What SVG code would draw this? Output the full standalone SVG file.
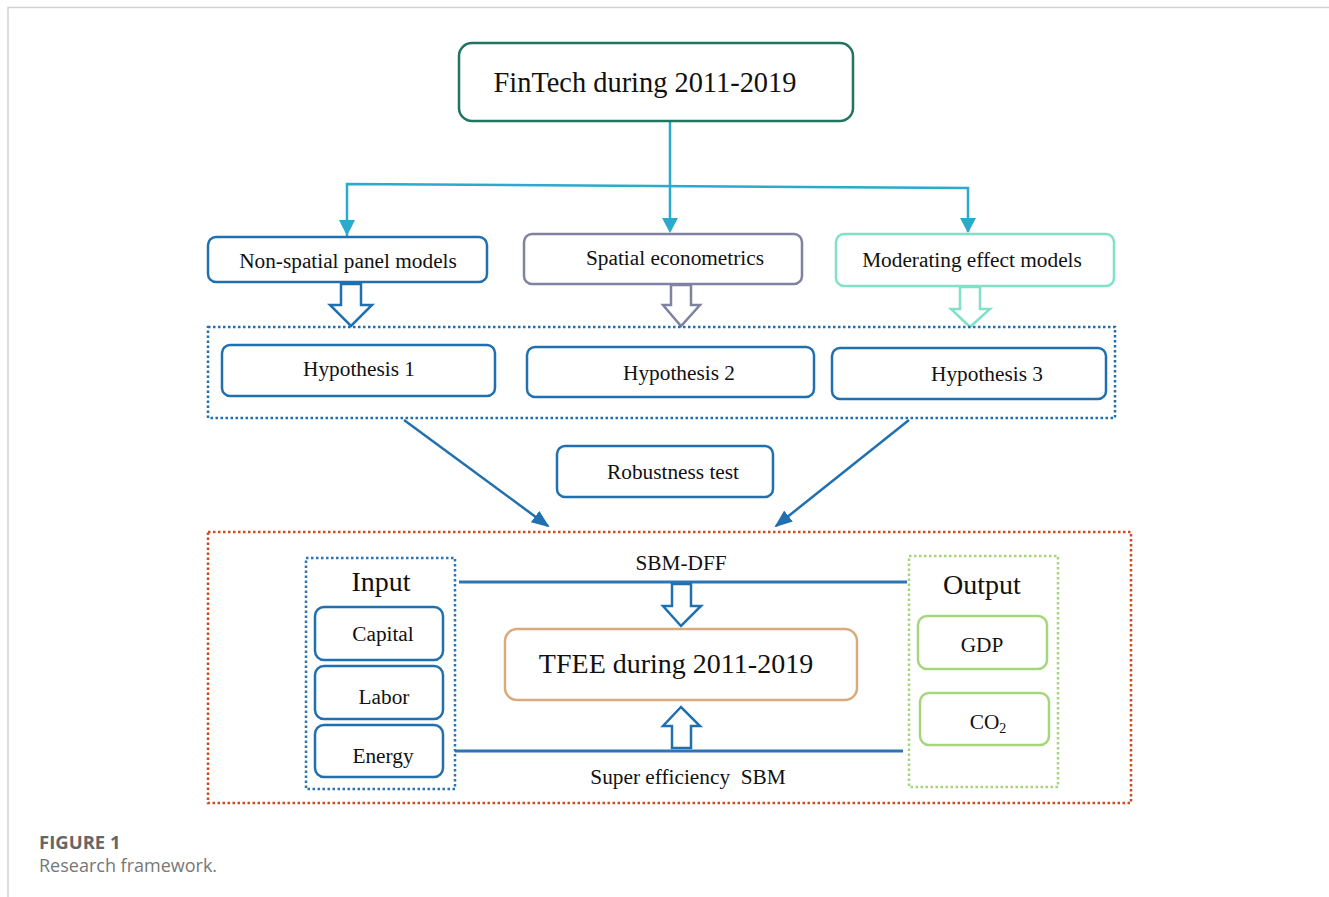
<svg xmlns="http://www.w3.org/2000/svg" width="1329" height="897" viewBox="0 0 1329 897">
<defs>
<style>
.t{font-family:"Liberation Serif","Times New Roman",serif;fill:#111;text-anchor:middle}
.s{font-size:21.3px}
.l{font-size:28px}
.box{fill:#fff;stroke-width:2.5}
.blue{stroke:#2070b0}
.hol{fill:#fff;stroke-width:2.5;stroke-linejoin:miter}
.cap{font-family:"Open Sans",Lato,sans-serif}
</style>
<marker id="ab" markerWidth="18" markerHeight="14" refX="16" refY="7" orient="auto" markerUnits="userSpaceOnUse"><path d="M0,0 L18,7 L0,14 z" fill="#2070b0"/></marker>
</defs>
<rect width="1329" height="897" fill="#fff"/>
<path d="M8,897 V7.5 H1329" fill="none" stroke="#d2d2d2" stroke-width="1.5"/>

<g id="connectors">
<path d="M670,121 V220" fill="none" stroke="#2aaacd" stroke-width="2.5"/>
<path d="M670,218 l-8,0 l8,15 l8,-15 z" fill="#2aaacd"/>
<path d="M347,236 V184 L968,188 V232" fill="none" stroke="#2aaacd" stroke-width="2.5"/>
<path d="M339,220 l8,16 l8,-16 z" fill="#2aaacd"/>
<path d="M960,218 l8,15 l8,-15 z" fill="#2aaacd"/>
<path d="M404,420 L548,526" fill="none" stroke="#2070b0" stroke-width="2.5" marker-end="url(#ab)"/>
<path d="M909,420 L776,526" fill="none" stroke="#2070b0" stroke-width="2.5" marker-end="url(#ab)"/>
<path d="M341,284 V305 H330 L351,326 L372,305 H361 V284 z" class="hol" stroke="#2070b0"/>
<path d="M671,285 V305 H663 L681,326 L700,305 H691 V285 z" class="hol" stroke="#7f82a0"/>
<path d="M960,287 V309 H951 L970,327 L990,309 H980 V287 z" class="hol" stroke="#80e0c8"/>
<path d="M459,582 H907" stroke="#2d74b4" stroke-width="3" fill="none"/>
<path d="M455,751 H903" stroke="#2d74b4" stroke-width="3" fill="none"/>
<path d="M672,584 V606 H663 L681,626 L701,606 H691 V584 z" class="hol" stroke="#2070b0"/>
<path d="M672,748 V726 H663 L681,707 L700,726 H691 V748 z" class="hol" stroke="#2070b0"/>
</g>

<g id="fintech"><rect x="459" y="43" width="394" height="78" rx="13" class="box" stroke="#1f7560"/><text x="645" y="92" class="t" font-size="28.4">FinTech during 2011-2019</text></g>
<g id="nonspatial"><rect x="208" y="237" width="279" height="45" rx="8" class="box blue"/><text x="348" y="268" class="t s">Non-spatial panel models</text></g>
<g id="spatial"><rect x="524" y="234" width="278" height="50" rx="8" class="box" stroke="#7f82a0"/><text x="675" y="265" class="t s">Spatial econometrics</text></g>
<g id="moderating"><rect x="836" y="234" width="278" height="52" rx="8" class="box" stroke="#80e0c8"/><text x="972" y="267" class="t s">Moderating effect models</text></g>

<g id="hypotheses"><rect x="208" y="327" width="907" height="91" fill="none" stroke="#2070b0" stroke-width="2.5" stroke-dasharray="2.5 2.5"/></g>
<g id="h1"><rect x="222" y="345" width="273" height="51" rx="8" class="box blue"/><text x="359" y="376" class="t s">Hypothesis 1</text></g>
<g id="h2"><rect x="527" y="347" width="287" height="50" rx="8" class="box blue"/><text x="679" y="380" class="t s">Hypothesis 2</text></g>
<g id="h3"><rect x="832" y="348" width="274" height="51" rx="8" class="box blue"/><text x="987" y="381" class="t s">Hypothesis 3</text></g>

<g id="robustness"><rect x="557" y="446" width="216" height="51" rx="8" class="box blue"/><text x="673" y="479" class="t s">Robustness test</text></g>

<g id="tfee-frame"><rect x="208" y="532" width="923" height="271" fill="none" stroke="#d04a1e" stroke-width="2.5" stroke-dasharray="2.5 2.5"/></g>

<g id="input"><rect x="306" y="558" width="149" height="231" fill="none" stroke="#2d74b4" stroke-width="2.5" stroke-dasharray="2.5 2.5"/><text x="381" y="591" class="t l">Input</text></g>
<g id="capital"><rect x="315" y="607" width="128" height="53" rx="9" class="box blue" stroke-width="3"/><text x="383" y="641" class="t s">Capital</text></g>
<g id="labor"><rect x="315" y="666" width="128" height="53" rx="9" class="box blue" stroke-width="3"/><text x="384" y="704" class="t s">Labor</text></g>
<g id="energy"><rect x="315" y="725" width="128" height="52" rx="9" class="box blue" stroke-width="3"/><text x="383" y="763" class="t s">Energy</text></g>

<g id="sbmdff"><text x="681" y="570" class="t s">SBM-DFF</text></g>
<g id="tfee"><rect x="505" y="629" width="352" height="71" rx="12" class="box" stroke="#d9aa7c" stroke-width="3"/><text x="676" y="673" class="t l">TFEE during 2011-2019</text></g>
<g id="superSBM"><text x="688" y="784" class="t s" xml:space="preserve">Super efficiency  SBM</text></g>

<g id="output"><rect x="909" y="556" width="149" height="231" fill="none" stroke="#a6d67c" stroke-width="2.5" stroke-dasharray="2.5 2.5"/><text x="982" y="594" class="t l">Output</text></g>
<g id="gdp"><rect x="918" y="616" width="129" height="53" rx="9" class="box" stroke="#a6d67c" stroke-width="3"/><text x="982" y="652" class="t s">GDP</text></g>
<g id="co2"><rect x="920" y="693" width="129" height="52" rx="9" class="box" stroke="#a6d67c" stroke-width="3"/><text x="988" y="729" class="t s">CO<tspan font-size="14" dy="4">2</tspan></text></g>

<g id="caption">
<text x="39" y="849" class="cap" font-size="18.5" font-weight="bold" fill="#666">FIGURE 1</text>
<text x="39" y="872" class="cap" font-size="18" fill="#777">Research framework.</text>
</g>
</svg>
